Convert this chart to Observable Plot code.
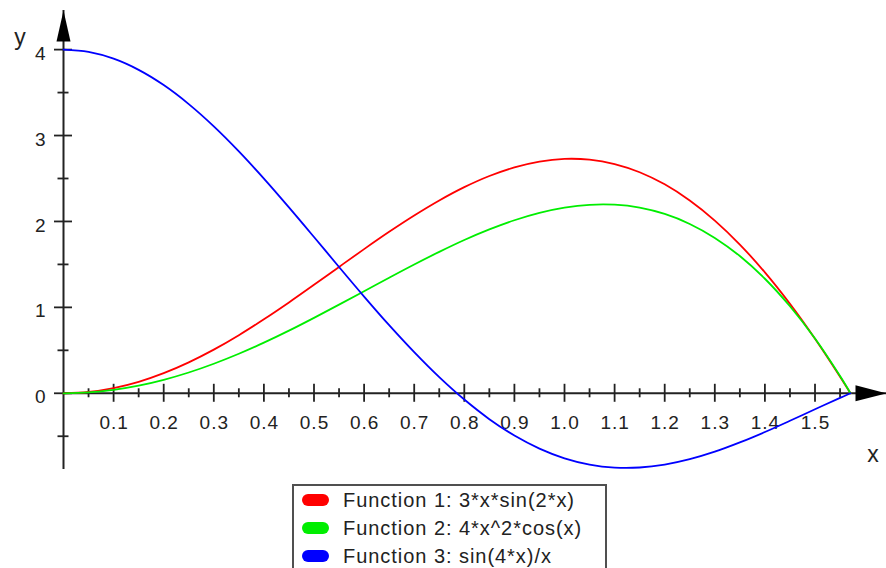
<!DOCTYPE html>
<html>
<head>
<meta charset="utf-8">
<script src="https://cdn.jsdelivr.net/npm/d3@7"></script>
<script src="https://cdn.jsdelivr.net/npm/@observablehq/plot@0.6"></script>
<style>
  html, body { margin: 0; padding: 0; background: #fff; overflow: hidden; width: 886px; height: 568px; }
  #chart svg { display: block; overflow: visible; }
  #legend {
    position: absolute; left: 292px; top: 484px; width: 315px; height: 88px;
    border: 2px solid #505050; box-sizing: border-box;
    font-family: "Liberation Sans", Arial, sans-serif; font-size: 20px; color: #222;
  }
  .row { position: absolute; left: 0; height: 28px; display: flex; align-items: center; white-space: nowrap; }
  .sw { width: 27px; height: 12px; border-radius: 6px; margin-left: 8px; margin-right: 14px; }
</style>
</head>
<body>
<div id="chart"></div>
<div id="legend"></div>
<script>
// x sample positions (radians)
const xs = [0, 0.05, 0.1, 0.15, 0.2, 0.25, 0.3, 0.35, 0.4, 0.45, 0.5, 0.55, 0.6, 0.65, 0.7, 0.75,
            0.8, 0.85, 0.9, 0.95, 1.0, 1.05, 1.1, 1.15, 1.2, 1.25, 1.3, 1.35, 1.4, 1.45, 1.5, 1.55, 1.5708];
// Function 1: 3*x*sin(2*x)
const f1 = [0, 0.015, 0.060, 0.133, 0.234, 0.360, 0.508, 0.676, 0.861, 1.057, 1.262, 1.471, 1.678, 1.879, 2.069, 2.244,
            2.399, 2.529, 2.629, 2.697, 2.728, 2.719, 2.668, 2.573, 2.432, 2.244, 2.010, 1.731, 1.407, 1.041, 0.635, 0.193, 0];
// Function 2: 4*x^2*cos(x)
const f2 = [0, 0.010, 0.040, 0.089, 0.157, 0.242, 0.344, 0.460, 0.589, 0.729, 0.878, 1.032, 1.188, 1.345, 1.499, 1.646,
            1.784, 1.907, 2.014, 2.100, 2.161, 2.194, 2.195, 2.161, 2.087, 1.971, 1.808, 1.597, 1.333, 1.013, 0.637, 0.200, 0];
// Function 3: sin(4*x)/x
const f3 = [4.000, 3.973, 3.894, 3.764, 3.587, 3.366, 3.107, 2.816, 2.499, 2.164, 1.819, 1.470, 1.126, 0.793, 0.479, 0.188,
            -0.073, -0.301, -0.492, -0.644, -0.757, -0.830, -0.865, -0.864, -0.830, -0.767, -0.680, -0.572, -0.451, -0.320, -0.186, -0.054, 0];

const seriesNames = ["Function 1: 3*x*sin(2*x)", "Function 2: 4*x^2*cos(x)", "Function 3: sin(4*x)/x"];
const seriesColors = ["#ff0000", "#00ee00", "#0000ff"];

const xMajor = [0.1, 0.2, 0.3, 0.4, 0.5, 0.6, 0.7, 0.8, 0.9, 1.0, 1.1, 1.2, 1.3, 1.4, 1.5];
const xMajorLabels = ["0.1", "0.2", "0.3", "0.4", "0.5", "0.6", "0.7", "0.8", "0.9", "1.0", "1.1", "1.2", "1.3", "1.4", "1.5"];
const xMinor = [0.05, 0.15, 0.25, 0.35, 0.45, 0.55, 0.65, 0.75, 0.85, 0.95, 1.05, 1.15, 1.25, 1.35, 1.45, 1.55];
const yMajor = [0, 1, 2, 3, 4];
const yMajorLabels = ["0", "1", "2", "3", "4"];
const yMinor = [-0.5, 0.5, 1.5, 2.5, 3.5];

// axis extents
const X_END = 1.6427, Y_TOP = 4.455, Y_BOTTOM = -0.888;
const X_DOMAIN = [0, 1.6427], Y_DOMAIN = [-0.9918, 4.5716];

const rows = [];
[f1, f2, f3].forEach((arr, k) => arr.forEach((v, i) => rows.push({x: xs[i], y: v, s: seriesNames[k]})));

const upArrow = { draw(ctx) { ctx.moveTo(0, 0); ctx.lineTo(7, 31); ctx.lineTo(-7, 31); ctx.closePath(); } };
const rightArrow = { draw(ctx) { ctx.moveTo(0, 0); ctx.lineTo(-31, 8); ctx.lineTo(-31, -8); ctx.closePath(); } };

const axisColor = "#222";
const font = "Liberation Sans, Arial, sans-serif";

const chart = Plot.plot({
  width: 886, height: 478,
  marginLeft: 63, marginRight: 0, marginTop: 0, marginBottom: 0,
  x: {domain: X_DOMAIN, axis: null},
  y: {domain: Y_DOMAIN, axis: null},
  color: {domain: seriesNames, range: seriesColors},
  style: {fontFamily: font, background: "#fff", overflow: "visible", letterSpacing: "1px"},
  marks: [
    Plot.ruleY([0], {x1: 0, x2: X_END, stroke: axisColor, strokeWidth: 2}),
    Plot.ruleX([0], {y1: Y_BOTTOM, y2: Y_TOP, stroke: axisColor, strokeWidth: 2}),
    Plot.ruleX(xMajor, {x: d => d, y1: 0, y2: 0, insetTop: -9, insetBottom: -9, stroke: axisColor, strokeWidth: 1.8}),
    Plot.ruleX(xMinor, {x: d => d, y1: 0, y2: 0, insetTop: -4.5, insetBottom: -4.5, stroke: axisColor, strokeWidth: 1.8}),
    Plot.ruleY(yMajor, {y: d => d, x1: 0, x2: 0, insetLeft: -9, insetRight: -9, stroke: axisColor, strokeWidth: 1.8}),
    Plot.ruleY(yMinor, {y: d => d, x1: 0, x2: 0, insetLeft: -5.5, insetRight: -5.5, stroke: axisColor, strokeWidth: 1.8}),
    Plot.text(xMajor, {x: d => d, y: 0, text: (d, i) => xMajorLabels[i], dx: 0.5, dy: 30, fontSize: 19, fill: axisColor, textAnchor: "middle"}),
    Plot.text(yMajor, {x: 0, y: d => d, text: (d, i) => yMajorLabels[i], dx: -17, dy: 4, fontSize: 19, fill: axisColor, textAnchor: "end"}),
    Plot.text(["y"], {x: 0, y: 4, text: d => d, dx: -43, dy: -12, fontSize: 23, fill: axisColor, textAnchor: "middle"}),
    Plot.text(["x"], {x: X_END, y: 0, text: d => d, dx: -13, dy: 61, fontSize: 23, fill: axisColor, textAnchor: "middle"}),
    Plot.line(rows, {x: "x", y: "y", z: "s", stroke: "s", strokeWidth: 1.8, curve: "catmull-rom"}),
    Plot.dot([0], {x: 0, y: Y_TOP, symbol: upArrow, fill: "#000", stroke: "none", r: 5}),
    Plot.dot([0], {x: X_END, y: 0, symbol: rightArrow, fill: "#000", stroke: "none", r: 5})
  ]
});
document.getElementById("chart").appendChild(chart);

// legend, with letter spacing fitted to the reference text width
const ctx = document.createElement("canvas").getContext("2d");
ctx.font = '20px "Liberation Sans", Arial, sans-serif';
const targetWidth = 231;
const w0 = ctx.measureText(seriesNames[0]).width;
const spacing = Math.max(0, (targetWidth - w0) / (seriesNames[0].length - 1));

const legend = document.getElementById("legend");
seriesNames.forEach((name, i) => {
  const row = document.createElement("div");
  row.className = "row";
  row.style.top = (0 + i * 28) + "px";
  const sw = document.createElement("div");
  sw.className = "sw";
  sw.style.background = seriesColors[i];
  const t = document.createElement("span");
  t.textContent = name;
  t.style.letterSpacing = spacing + "px";
  row.appendChild(sw); row.appendChild(t);
  legend.appendChild(row);
});
</script>
</body>
</html>
